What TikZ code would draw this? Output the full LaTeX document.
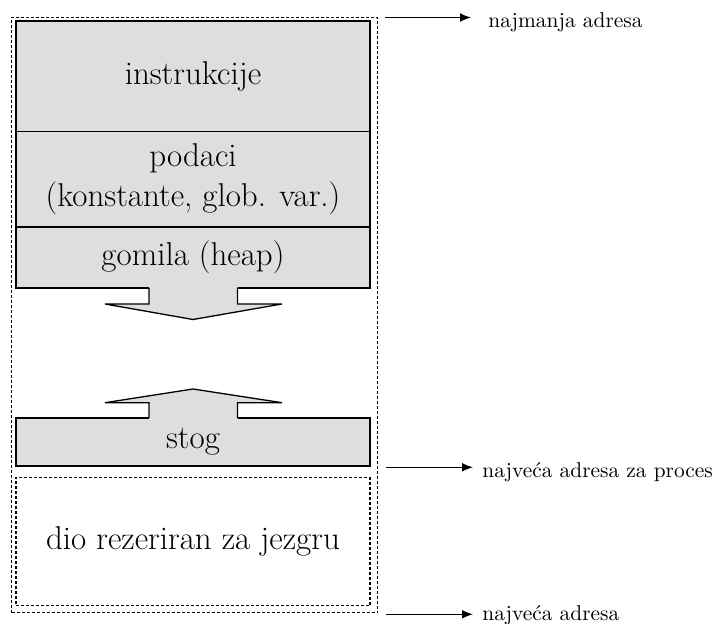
\documentclass[tikz,border=0pt]{standalone}
\usetikzlibrary{arrows.meta}

\definecolor{segfill}{RGB}{222,222,222}

\begin{document}
\begin{tikzpicture}[
            x=0.5pt, y=-0.5pt,
            segment/.style={
                rectangle,
                draw,
                fill=segfill,
                line width=0.65pt,
                minimum width=177pt,
                inner sep=0pt,
                align=center,
                font=\fontsize{16.5}{20}\selectfont
            },
            reserved/.style={
                segment,
                fill=none,
                line width=0.6pt,
                dash pattern=on 1.5pt off 1pt
            },
            frame/.style={
                rectangle,
                draw,
                line width=0.6pt,
                dash pattern=on 1.5pt off 1pt,
                minimum width=183pt,
                minimum height=297.7pt
            },
            address/.style={
                anchor=base west,
                inner sep=0pt,
                font=\fontsize{10.7}{13}\selectfont
            },
            pointer/.style={
                -{Latex[length=5.5pt,width=4.4pt]},
                line width=0.6pt
            }
        ]

            \useasboundingbox (0,0) rectangle (713,624);

            \node[frame] (okvir) at (194.7, 315) {};

            \node[segment, minimum height=55.25pt] (instr) at (193, 76.25) {instrukcije};
            \node[segment, minimum height=47.75pt] (podaci) at (193, 179.25)
                {podaci\\(konstante, glob. var.)};
            \node[segment, minimum height=30.5pt] (gomila) at (193, 257.5) {gomila (heap)};
            \node[segment, minimum height=24pt] (stog) at (193, 442) {stog};
            \node[reserved, minimum height=64.2pt] (jezgra) at (193, 541.5)
                {dio rezeriran za jezgru};

            \fill[segfill] (149, 286) -- (149, 304) -- (105, 304) -- (193, 319.5)
                -- (282, 304) -- (237.5, 304) -- (237.5, 286) -- cycle;
            \draw[line width=0.65pt] (149, 288) -- (149, 304) -- (105, 304) -- (193, 319.5)
                -- (282, 304) -- (237.5, 304) -- (237.5, 288);

            \fill[segfill] (149, 420) -- (149, 402.7) -- (105, 402.7) -- (193, 389)
                -- (282, 402.7) -- (237.5, 402.7) -- (237.5, 420) -- cycle;
            \draw[line width=0.65pt] (149, 418) -- (149, 402.7) -- (105, 402.7) -- (193, 389)
                -- (282, 402.7) -- (237.5, 402.7) -- (237.5, 418);

            \coordinate (min-s) at (385, 17.5);
            \coordinate (min-e) at (471, 17.5);
            \coordinate (proc-s) at (386, 467.3);
            \coordinate (proc-e) at (473, 467.3);
            \coordinate (max-s) at (386, 614.3);
            \coordinate (max-e) at (473, 614.3);

            \node[address] (najmanja) at (488, 27.5) {najmanja adresa};
            \node[address] (proces) at (482, 477.5) {najveća adresa za proces};
            \node[address] (najveca) at (482, 621) {najveća adresa};

            \draw[pointer] (min-s) -- (min-e);
            \draw[pointer] (proc-s) -- (proc-e);
            \draw[pointer] (max-s) -- (max-e);

        \end{tikzpicture}
\end{document}
